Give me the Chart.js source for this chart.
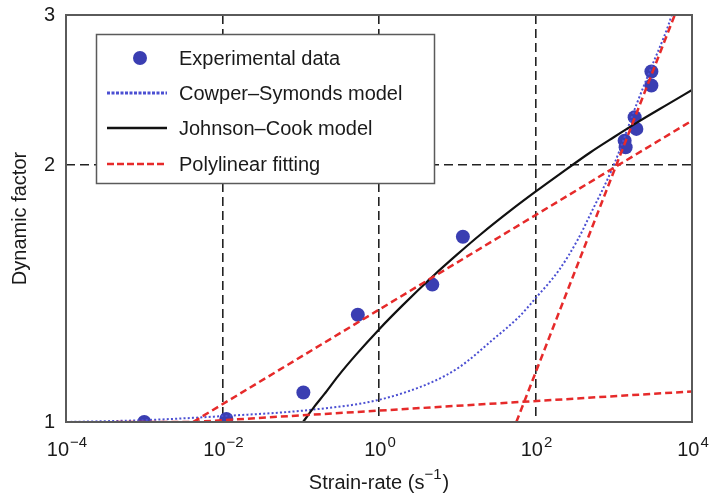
<!DOCTYPE html>
<html>
<head>
<meta charset="utf-8">
<script src="https://cdn.jsdelivr.net/npm/chart.js@4.4.1/dist/chart.umd.min.js"></script>
<style>
    html, body { margin: 0; padding: 0; background: #fff; }
</style>
</head>
<body>
<canvas id="chart" width="709" height="496"></canvas>
<script>
    "use strict";

    // Experimental data (strain-rate, dynamic factor)
    const expRate = [0.001, 0.0112, 0.108, 0.536, 4.8, 11.8, 1377, 1419, 1849, 1945, 3027, 3027];
    const expFactor = [1.0, 1.008, 1.083, 1.336, 1.449, 1.649, 2.137, 2.099, 2.277, 2.206, 2.576, 2.48];

    // Cowper-Symonds model
    const csRate = [0.0001, 0.001, 0.01, 0.129, 0.97, 4.9, 10.7, 28.5, 62.4, 97, 203, 348, 500, 1000, 2000, 3000, 5000, 6000];
    const csFactor = [1.0, 1.005, 1.016, 1.033, 1.061, 1.115, 1.16, 1.249, 1.33, 1.392, 1.51, 1.637, 1.75, 2.0, 2.37, 2.6, 2.92, 3.08];

    // Johnson-Cook model
    const jcRate = [0.107, 0.15, 0.2, 0.3, 0.5, 1, 2, 5, 10, 20, 50, 100, 200, 500, 1000, 2000, 5000, 10000];
    const jcFactor = [1.0, 1.043, 1.078, 1.132, 1.197, 1.284, 1.37, 1.485, 1.572, 1.66, 1.775, 1.862, 1.95, 2.07, 2.157, 2.245, 2.36, 2.45];

    // Polylinear fitting, null breaks the segments
    const polyRate = [0.00044, 0.0042, 10000, null, 0.0042, 10000, null, 56.9, 6012];
    const polyFactor = [1.0, 1.0, 2.256, null, 1.0, 1.086, null, 1.0, 3.0];

    // Ticks
    const xTickValues = [1e-4, 1e-2, 1, 1e2, 1e4];
    const xTickExp = ['\u22124', '\u22122', '0', '2', '4'];
    const yTickValues = [1, 2, 3];

    // Colors
    const blue_point = '#3a3eb2';
    const blue_line = '#4b4fd2';
    const red_line = '#e62a2a';
    const black_line = '#111111';
    const grid_color = '#222222';
    const frame_color = '#5a5a5a';
    const text_color = '#1a1a1a';

    const fontFamily = '"Liberation Sans", Arial, Helvetica, sans-serif';

    function toPoints(xs, ys) {
        return xs.map((x, i) => (x === null ? { x: NaN, y: null } : { x: x, y: ys[i] }));
    }

    // draws "10" with a raised exponent, centered on cx
    function drawPower(ctx, base, exp, cx, baseline) {
        ctx.font = '20px ' + fontFamily;
        const wb = ctx.measureText(base).width;
        ctx.font = '15px ' + fontFamily;
        const we = ctx.measureText(exp).width;
        const x0 = cx - (wb + we + 1) / 2;
        ctx.font = '20px ' + fontFamily;
        ctx.fillText(base, x0, baseline);
        ctx.font = '15px ' + fontFamily;
        ctx.fillText(exp, x0 + wb + 1, baseline - 9);
    }

    const figurePlugin = {
        id: 'figure',
        afterDraw(chart) {
            const ctx = chart.ctx;
            const area = chart.chartArea;
            const xScale = chart.scales.x;

            ctx.save();

            // Frame
            ctx.strokeStyle = frame_color;
            ctx.lineWidth = 2;
            ctx.setLineDash([]);
            ctx.strokeRect(area.left, area.top, area.right - area.left, area.bottom - area.top);

            // X tick labels
            ctx.fillStyle = text_color;
            ctx.textBaseline = 'alphabetic';
            ctx.textAlign = 'left';
            xTickValues.forEach((v, i) => {
                drawPower(ctx, '10', xTickExp[i], xScale.getPixelForValue(v) + 1, 456);
            });

            // X title
            const parts = ['Strain-rate (s', '\u22121', ')'];
            ctx.font = '20px ' + fontFamily;
            const w0 = ctx.measureText(parts[0]).width;
            const w2 = ctx.measureText(parts[2]).width;
            ctx.font = '15px ' + fontFamily;
            const w1 = ctx.measureText(parts[1]).width;
            let tx = (area.left + area.right) / 2 - (w0 + w1 + w2 + 1) / 2;
            ctx.font = '20px ' + fontFamily;
            ctx.fillText(parts[0], tx, 489);
            ctx.font = '15px ' + fontFamily;
            ctx.fillText(parts[1], tx + w0, 479);
            ctx.font = '20px ' + fontFamily;
            ctx.fillText(parts[2], tx + w0 + w1 + 1, 489);

            // Legend box
            ctx.fillStyle = '#ffffff';
            ctx.fillRect(96, 34, 339, 150);
            ctx.strokeStyle = frame_color;
            ctx.lineWidth = 1.5;
            ctx.strokeRect(96.5, 34.5, 338, 149);

            const rows = [58, 93, 128, 164];
            const labels = chart.data.datasets.map(d => d.label);
            const lx0 = 107, lx1 = 167, tx0 = 179;

            // marker
            ctx.fillStyle = blue_point;
            ctx.beginPath();
            ctx.arc(140, rows[0], 7, 0, Math.PI * 2);
            ctx.fill();

            const samples = [
                null,
                { color: blue_line, width: 3, dash: [3, 1.5] },
                { color: black_line, width: 2.5, dash: [] },
                { color: red_line, width: 2.5, dash: [7, 3] }
            ];
            samples.forEach((s, i) => {
                if (!s) return;
                ctx.strokeStyle = s.color;
                ctx.lineWidth = s.width;
                ctx.setLineDash(s.dash);
                ctx.beginPath();
                ctx.moveTo(lx0, rows[i]);
                ctx.lineTo(lx1, rows[i]);
                ctx.stroke();
            });
            ctx.setLineDash([]);

            ctx.fillStyle = text_color;
            ctx.font = '20px ' + fontFamily;
            ctx.textBaseline = 'middle';
            labels.forEach((t, i) => ctx.fillText(t, tx0, rows[i] + 1));

            ctx.restore();
        }
    };

    const chart = new Chart(document.getElementById('chart').getContext('2d'), {
        type: 'line',
        data: {
            datasets: [{
                label: 'Experimental data',
                data: toPoints(expRate, expFactor),
                backgroundColor: blue_point,
                borderWidth: 0,
                pointRadius: 7,
                pointBorderWidth: 0,
                showLine: false,
                order: 4
            }, {
                label: 'Cowper\u2013Symonds model',
                data: toPoints(csRate, csFactor),
                borderColor: blue_line,
                borderWidth: 2,
                borderDash: [2, 2.2],
                pointRadius: 0,
                cubicInterpolationMode: 'monotone',
                order: 3
            }, {
                label: 'Johnson\u2013Cook model',
                data: toPoints(jcRate, jcFactor),
                borderColor: black_line,
                borderWidth: 2.2,
                pointRadius: 0,
                cubicInterpolationMode: 'monotone',
                order: 2
            }, {
                label: 'Polylinear fitting',
                data: toPoints(polyRate, polyFactor),
                spanGaps: false,
                borderColor: red_line,
                borderWidth: 2.5,
                borderDash: [7, 4],
                pointRadius: 0,
                tension: 0,
                order: 1
            }]
        },
        options: {
            responsive: false,
            animation: false,
            devicePixelRatio: 1,
            layout: {
                padding: { top: 15, right: 17, left: 0, bottom: 0 }
            },
            scales: {
                x: {
                    type: 'logarithmic',
                    min: 1e-4,
                    max: 1e4,
                    afterBuildTicks: (scale) => {
                        scale.ticks = xTickValues.map(v => ({ value: v }));
                    },
                    afterFit: (scale) => {
                        scale.height = 74;
                        scale.paddingLeft = 0;
                        scale.paddingRight = 0;
                    },
                    ticks: { display: false },
                    grid: {
                        drawTicks: false,
                        lineWidth: 1.6,
                        color: (c) => (c.tick && (c.tick.value === 1e-4 || c.tick.value === 1e4) ? 'rgba(0,0,0,0)' : grid_color)
                    },
                    border: { display: false, dash: [9, 5] }
                },
                y: {
                    type: 'logarithmic',
                    min: 1,
                    max: 3,
                    afterBuildTicks: (scale) => {
                        scale.ticks = yTickValues.map(v => ({ value: v }));
                    },
                    afterFit: (scale) => {
                        scale.width = 66;
                        scale.paddingTop = 0;
                        scale.paddingBottom = 0;
                    },
                    ticks: {
                        padding: 11,
                        color: text_color,
                        font: { family: fontFamily, size: 20 },
                        callback: (value) => String(value)
                    },
                    grid: {
                        drawTicks: false,
                        lineWidth: 1.6,
                        color: (c) => (c.tick && c.tick.value === 2 ? grid_color : 'rgba(0,0,0,0)')
                    },
                    border: { display: false, dash: [9, 5] },
                    title: {
                        display: true,
                        text: 'Dynamic factor',
                        color: text_color,
                        font: { family: fontFamily, size: 20 },
                        padding: { top: 8, bottom: 0 }
                    }
                }
            },
            plugins: {
                legend: { display: false },
                tooltip: { enabled: false }
            }
        },
        plugins: [figurePlugin]
    });
</script>
</body>
</html>
